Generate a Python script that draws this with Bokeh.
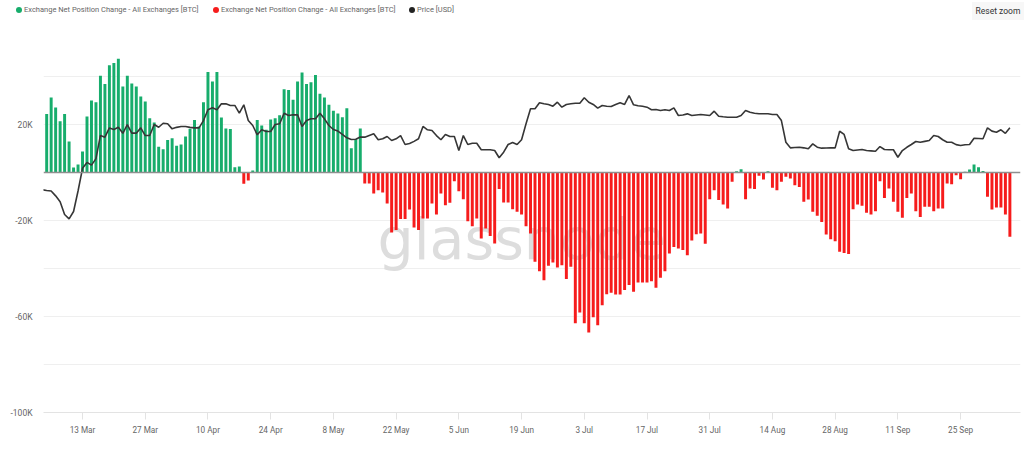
import numpy as np
import pandas as pd
from bokeh.plotting import figure
from bokeh.layouts import column
from bokeh.models import ColumnDataSource, Range1d, FixedTicker, Span, Label, Div
from bokeh.embed import file_html
from bokeh.resources import INLINE

# ---------------- data ----------------
net_start = "2023-03-05"
net_change = [
    24400, 31300, 27100, 21400, 24400, 12900, 2100, 3300, 8800, 23300,
    30000, 29300, 40300, 36900, 44700, 45600, 47400, 35800, 40300, 37100,
    35800, 31700, 29600, 22600, 20800, 10700, 9700, 13500, 14300, 11100,
    11700, 15000, 18200, 21900, 19200, 29300, 41900, 37900, 41900, 22900,
    18300, 18100, 2200, 2500, -4700, -3300, 800, 21900, 19600, 17800,
    22100, 22600, 23900, 34700, 34400, 30300, 37900, 41700, 36900, 37600,
    40600, 32800, 31300, 28200, 25700, 24600, 23000, 26800, 10100, 13900,
    18300,
    -4600, -4600, -8750, -7400, -8300, -12900, -25000, -24000, -19400, -19400,
    -15400, -22900, -24000, -19200, -19200, -12900, -17500, -8750, -13600, -12600,
    -3600, -7800, -11100, -20300, -22400, -19200, -27500, -23300, -26500, -29600,
    -6900, -12500, -12500, -15300, -16400, -17500, -22400, -25400, -37200, -41100,
    -44900, -38900, -37500, -39600, -38600, -44400, -39300, -62800, -58300, -62800,
    -66700, -60300, -63600, -55300, -50700, -50100, -50800, -50800, -49000, -46900,
    -49700, -45800, -45800, -45800, -45300, -48000, -43900, -41100, -33750, -31000,
    -31700, -32300, -34500,
    -28300, -25700, -25400, -29700, -11100, -7400, -11500, -13300, -15000, -3900,
    500, 1400, -11100, -6700, -6900, -1400, -2900, 500, -6400, -7400,
    -3900, -1800, -2500, -5300, -6000, -12200, -11250, -16400, -18000, -20600,
    -25800, -27800, -28600, -33000, -33500, -34000, -15300, -13300, -13900, -16800,
    -17500, -16100, -3600, -10600, -6700, -12200, -16400, -18900, -10600, -8750,
    -16100, -18500, -14300, -14300, -16100, -15000, -15000, -4600, -4900, -1100,
    -2800, 300, 1200, 3300, 2200, 600, -10100, -15400, -14600, -14600,
    -17500, -26800,
]

price_start = "2023-03-04"
price_usd = [
    22660, 22600, 22550, 22100, 21560, 20370, 19970, 20650, 22550, 24650,
    25200, 24950, 25550, 27700, 27540, 28400, 28250, 28460, 27900, 28710,
    27910, 27910, 28400, 27690, 27690, 28710, 28460, 28830, 28780, 28310,
    28450, 28530, 28530, 28450, 28400, 28400, 29080, 30080, 30260, 30080,
    30630, 30630, 30480, 30480, 29760, 30540, 29080, 28620, 27760, 28220,
    28070, 28070, 28710, 28780, 29760, 29550, 29610, 29610, 28530, 29080,
    29240, 29240, 29760, 29240, 28620, 28250, 28100, 27800, 27480, 27320,
    27350, 27560, 27540, 27700, 27850, 27300, 27390, 27600, 27230, 27390,
    27690, 26860, 26950, 27150, 27390, 28530, 28220, 28160, 27690, 27300,
    27790, 27600, 27600, 26300, 27690, 26860, 26980, 26980, 26370, 26370,
    26370, 26300, 25630, 26150, 26860, 27050, 26860, 27300, 28780, 30170,
    30170, 30730, 30630, 30570, 30410, 30780, 30320, 30570, 30630, 30690,
    30690, 31190, 30780, 30570, 30230, 30480, 30410, 30380, 30570, 30730,
    30570, 31400, 30540, 30450, 30410, 30320, 30080, 30100, 30010, 30080,
    30010, 30260, 29550, 29600, 29700, 29550, 29600, 29640, 29600, 29550,
    29950, 29480, 29430, 29390, 29390, 29390, 29550, 30010, 29850, 29760,
    29710, 29710, 29710, 29640, 29640, 29080, 27070, 26550, 26580, 26610,
    26550, 26460, 26920, 26610, 26520, 26540, 26550, 26550, 28090, 27790,
    26460, 26300, 26350, 26400, 26300, 26270, 26240, 26670, 26400, 26380,
    26370, 25680, 26300, 26600, 26860, 27140, 27070, 27150, 27230, 27690,
    27600, 27300, 27070, 27070, 26850, 26770, 26830, 26860, 27440, 27420,
    27390, 28410, 28100, 28000, 28220, 27900, 28410,
]

tick_dates = ["2023-03-13", "2023-03-27", "2023-04-10", "2023-04-24", "2023-05-08",
              "2023-05-22", "2023-06-05", "2023-06-19", "2023-07-03", "2023-07-17",
              "2023-07-31", "2023-08-14", "2023-08-28", "2023-09-11", "2023-09-25"]
tick_labels = ["13 Mar", "27 Mar", "10 Apr", "24 Apr", "8 May", "22 May", "5 Jun",
               "19 Jun", "3 Jul", "17 Jul", "31 Jul", "14 Aug", "28 Aug", "11 Sep", "25 Sep"]
y_ticks = [20000, -20000, -60000, -100000]
y_tick_labels = ["20K", "-20K", "-60K", "-100K"]
grid_levels = [60000, 40000, 20000, -20000, -40000, -60000, -80000, -100000]

series_name = "Exchange Net Position Change - All Exchanges [BTC]"
price_name = "Price [USD]"
reset_text = "Reset zoom"

# ---------------- styling ----------------
GREEN = "#17ad6c"
RED = "#f61c1c"
PRICE_C = "#363636"
TXT = "#666666"
FONT = "Roboto"
DAY = 86400000


def to_ms(d):
    return int(pd.Timestamp(d).value // 10**6)


net_dates = pd.date_range(net_start, periods=len(net_change), freq="D")
net_ms = np.array([to_ms(d) for d in net_dates])
vals = np.array(net_change, dtype=float)
pos = vals >= 0

src_pos = ColumnDataSource(dict(x=net_ms[pos], top=vals[pos]))
src_neg = ColumnDataSource(dict(x=net_ms[~pos], top=vals[~pos]))

price_dates = pd.date_range(price_start, periods=len(price_usd), freq="D")
src_price = ColumnDataSource(dict(x=[to_ms(d) for d in price_dates], y=price_usd))

x0 = to_ms(net_start)
p = figure(width=1024, height=421, output_backend="svg", toolbar_location=None,
           x_range=Range1d(x0 - 0.71 * DAY, x0 + 217.37 * DAY),
           y_range=Range1d(-100000, 60000),
           min_border_left=43, min_border_right=4, min_border_top=0, min_border_bottom=37)
p.extra_y_ranges = {"price": Range1d(2016, 37613)}
p.outline_line_color = None
p.background_fill_color = "white"
p.border_fill_color = "white"

# axes
xa = p.xaxis[0]
tick_ms = [to_ms(d) for d in tick_dates]
xa.ticker = FixedTicker(ticks=tick_ms)
xa.major_label_overrides = {t: l for t, l in zip(tick_ms, tick_labels)}
xa.axis_line_color = "#e3e3e3"
xa.major_tick_line_color = "#e3e3e3"
xa.major_tick_out = 7
xa.major_tick_in = 0
xa.minor_tick_line_color = None
xa.major_label_standoff = 5
xa.major_label_text_font = FONT
xa.major_label_text_font_size = "8.2px"
xa.major_label_text_color = TXT

ya = p.yaxis[0]
ya.ticker = FixedTicker(ticks=y_ticks)
ya.major_label_overrides = {t: l for t, l in zip(y_ticks, y_tick_labels)}
ya.axis_line_color = None
ya.major_tick_line_color = None
ya.minor_tick_line_color = None
ya.major_tick_out = 0
ya.major_tick_in = 0
ya.major_label_standoff = 11
ya.major_label_text_font = FONT
ya.major_label_text_font_size = "8.5px"
ya.major_label_text_color = TXT

p.xgrid.grid_line_color = None
p.ygrid.ticker = FixedTicker(ticks=grid_levels)
p.ygrid.grid_line_color = "#efefef"
p.ygrid.grid_line_width = 1

# watermark (behind the bars)
p.add_layout(Label(x=334, y=174, x_units="screen", y_units="screen", text="glassnode",
                   text_font="DejaVu Sans", text_font_size="57px", text_color="#dddddd",
                   text_baseline="alphabetic", level="underlay"))

# bars
BAR_W = 0.66 * DAY
p.vbar(x="x", top="top", bottom=0, width=BAR_W, source=src_pos,
       fill_color=GREEN, line_color=None)
p.vbar(x="x", top="top", bottom=0, width=BAR_W, source=src_neg,
       fill_color=RED, line_color=None)

p.add_layout(Span(location=0, dimension="width", line_color="#8f8f8f", line_width=1.6))

# price line
p.line(x="x", y="y", source=src_price, y_range_name="price",
       line_color=PRICE_C, line_width=1.6)

# legend strip + reset button (above the chart)
def dot(left, col):
    return (f'<span style="position:absolute;left:{left}px;top:7px;width:6px;height:6px;'
            f'border-radius:50%;background:{col};"></span>')


def txt(left, s):
    return (f'<span style="position:absolute;left:{left}px;top:5px;font-size:7.5px;'
            f'line-height:10px;white-space:nowrap;color:{TXT};">{s}</span>')


legend_html = (
    f'<div style="position:relative;width:1024px;height:28px;font-family:{FONT};">'
    + dot(16, GREEN) + txt(24, series_name)
    + dot(213, RED) + txt(221, series_name)
    + dot(409, "#222222") + txt(417, price_name)
    + f'<span style="position:absolute;left:972px;top:2px;width:52px;height:18px;'
      f'line-height:18px;text-align:center;background:#f7f7f7;font-size:8.5px;'
      f'color:#333333;white-space:nowrap;">{reset_text}</span>'
    + '</div>'
)
legend_div = Div(text=legend_html, width=1024, height=28, margin=0)

layout = column(legend_div, p, spacing=0)
open("out.html", "w").write(file_html(layout, INLINE))
